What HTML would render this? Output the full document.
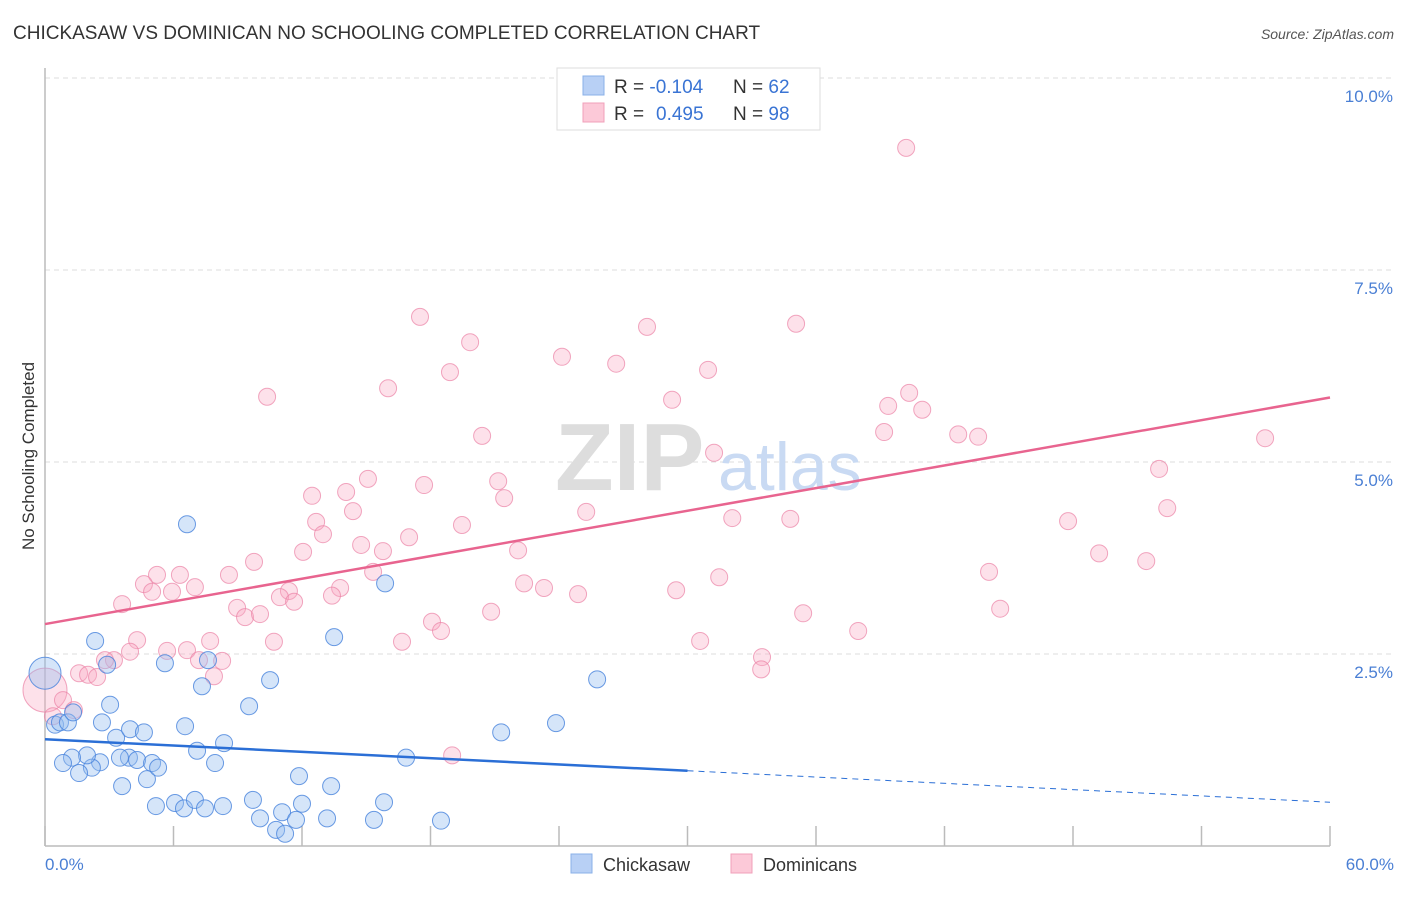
<!DOCTYPE html>
<html><head><meta charset="utf-8"><style>
body{margin:0;background:#fff;font-family:"Liberation Sans",sans-serif;}
svg text{font-family:"Liberation Sans",sans-serif;}
</style></head><body>
<svg id="chart" width="1406" height="892" xmlns="http://www.w3.org/2000/svg">
<text x="13" y="39" font-size="19" fill="#333">CHICKASAW VS DOMINICAN NO SCHOOLING COMPLETED CORRELATION CHART</text>
<text x="1394" y="39" font-size="14" fill="#555" font-style="italic" text-anchor="end">Source: ZipAtlas.com</text>
<g id="grid"></g>
<g>
<text x="555" y="490" font-size="96" fill="#ddd" font-family="Liberation Serif" font-weight="bold">ZIP</text>
<text x="718" y="490" font-size="68" fill="#c9daf3">atlas</text>
</g>
<line x1="45" y1="68" x2="45" y2="846" stroke="#bbb" stroke-width="1.5"/>
<line x1="45" y1="846" x2="1330" y2="846" stroke="#bbb" stroke-width="1.5"/>
<g id="ticks"></g>
<g id="pts"></g>
<g id="lines"></g>
<text transform="translate(34,456) rotate(-90)" font-size="17" fill="#333" text-anchor="middle">No Schooling Completed</text>
<text x="45" y="870" font-size="17" fill="#4a7fd4">0.0%</text>
<text x="1394" y="870" font-size="17" fill="#4a7fd4" text-anchor="end">60.0%</text>
<g>
<rect x="557" y="68" width="263" height="62" fill="#fff" stroke="#ddd"/>
<rect x="583" y="76" width="21" height="19" fill="#b8d0f5" stroke="#8ab0e8"/>
<rect x="583" y="103" width="21" height="19" fill="#fcc9d8" stroke="#f0a0ba"/>
<text x="614" y="93" font-size="19" fill="#333">R = <tspan fill="#3a74d4">-0.104</tspan></text>
<text x="733" y="93" font-size="19" fill="#333">N = <tspan fill="#3a74d4">62</tspan></text>
<text x="614" y="120" font-size="19" fill="#333">R = <tspan fill="#3a74d4" x="656">0.495</tspan></text>
<text x="733" y="120" font-size="19" fill="#333">N = <tspan fill="#3a74d4">98</tspan></text>
</g>
<g>
<rect x="571" y="854" width="21" height="19" fill="#b8d0f5" stroke="#8ab0e8"/>
<text x="603" y="871" font-size="18" fill="#333">Chickasaw</text>
<rect x="731" y="854" width="21" height="19" fill="#fcc9d8" stroke="#f0a0ba"/>
<text x="763" y="871" font-size="18" fill="#333">Dominicans</text>
</g>
</svg>
<script>
const yTicks=[2.5,5.0,7.5,10.0];
const blueX=[0,0.47,0.70,1.07,1.31,2.34,3.04,2.90,2.66,3.32,3.97,4.62,3.92,4.30,5.00,3.50,2.57,2.19,1.96,1.26,0.84,1.59,3.60,4.76,5.28,6.63,5.60,7.61,7.33,6.54,7.10,7.94,8.36,9.53,10.51,5.18,6.07,6.49,7.00,7.47,8.31,9.71,10.04,10.79,11.21,11.07,11.72,12.00,11.86,13.17,13.36,13.50,15.36,15.83,15.88,16.86,18.49,21.30,23.86,25.78];
const blueY=[2.25,1.58,1.61,1.61,1.74,2.67,1.84,2.36,1.61,1.41,1.52,1.48,1.15,1.12,1.08,1.15,1.09,1.02,1.18,1.15,1.08,0.95,0.78,0.87,1.02,4.19,2.38,2.42,2.08,1.56,1.24,1.08,1.34,1.82,2.16,0.52,0.56,0.49,0.60,0.49,0.52,0.60,0.36,0.21,0.16,0.44,0.34,0.55,0.91,0.36,0.78,2.72,0.34,0.57,3.42,1.15,0.33,1.48,1.60,2.17];
const pinkX=[40.21,17.51,19.85,16.02,18.91,10.37,24.14,26.67,28.11,35.07,30.96,29.28,39.37,40.35,40.96,39.18,42.64,43.57,56.97,20.41,31.24,52.02,52.40,47.77,15.08,12.47,14.06,17.70,21.16,21.44,14.38,12.66,12.98,19.47,25.27,32.09,34.80,17.00,14.76,15.78,12.05,9.76,8.59,5.23,6.30,4.62,5.00,5.93,7.00,15.32,22.09,49.22,51.42,44.08,31.48,22.37,23.30,13.78,13.40,11.39,10.97,11.63,8.97,9.34,10.04,3.60,24.89,29.47,20.83,35.40,44.60,37.97,18.07,18.49,16.67,30.59,4.30,7.71,10.69,5.70,3.97,6.63,7.19,8.27,3.22,2.80,1.59,2.01,2.43,7.89,33.48,33.44,0,0.84,1.35,0.37,19.01];
const pinkY=[9.09,6.89,6.56,5.96,6.17,5.85,6.37,6.28,6.76,6.80,6.20,5.81,5.73,5.90,5.68,5.39,5.36,5.33,5.31,5.34,5.12,4.91,4.40,4.23,4.78,4.56,4.61,4.70,4.75,4.53,4.36,4.22,4.06,4.18,4.35,4.27,4.26,4.02,3.92,3.84,3.83,3.70,3.53,3.53,3.53,3.41,3.31,3.31,3.37,3.57,3.85,3.81,3.71,3.57,3.50,3.42,3.36,3.36,3.26,3.32,3.24,3.18,3.10,2.98,3.02,3.15,3.28,3.33,3.05,3.03,3.09,2.80,2.92,2.80,2.66,2.67,2.68,2.67,2.66,2.54,2.53,2.55,2.42,2.41,2.42,2.42,2.25,2.23,2.20,2.21,2.46,2.30,2.03,1.90,1.77,1.69,1.18];
const blueTrend=[1.39,0.57];
const pinkTrend=[2.89,5.84];
const sx=v=>45+v*1285/60, sy=v=>846-v*76.8;
const NS="http://www.w3.org/2000/svg";
function mk(t,a,p){const e=document.createElementNS(NS,t);for(const k in a)e.setAttribute(k,a[k]);p.appendChild(e);return e;}
const grid=document.getElementById('grid');
yTicks.forEach(t=>{
 const l=mk('line',{x1:45,x2:1394,y1:sy(t),y2:sy(t),stroke:'#ddd','stroke-dasharray':'5,4'},grid);
 
 
 const tx=mk('text',{x:1393,y:sy(t)+24,'font-size':17,fill:'#4a7fd4','text-anchor':'end'},grid);
 tx.textContent=t.toFixed(1)+'%';
 
 
});
const tk=document.getElementById('ticks');
for(let i=0;i<=10;i++){
 const l=mk('line',{x1:sx(i*6),x2:sx(i*6),y1:826,y2:846,stroke:'#bbb','stroke-width':1.5},tk);
 
 
}
const pts=document.getElementById('pts');
pinkX.forEach((x,i)=>{
 const c=mk('circle',{cx:sx(x),cy:sy(pinkY[i]),r:(i==92?22:8.5),fill:'rgba(248,170,195,0.35)',stroke:'rgba(235,130,165,0.7)','stroke-width':1},pts);
 
 
});
blueX.forEach((x,i)=>{
 const c=mk('circle',{cx:sx(x),cy:sy(blueY[i]),r:(i==0?16:8.5),fill:'rgba(150,190,240,0.4)',stroke:'rgba(70,130,220,0.8)','stroke-width':1},pts);
 
 
});
const ln=document.getElementById('lines');
const by=x=>blueTrend[0]+(blueTrend[1]-blueTrend[0])*x/60;
let l1=mk('line',{x1:sx(0),y1:sy(by(0)),x2:sx(30),y2:sy(by(30)),stroke:'#2b6fd6','stroke-width':2.5},ln);


let l2=mk('line',{x1:sx(30),y1:sy(by(30)),x2:sx(60),y2:sy(by(60)),stroke:'#2b6fd6','stroke-width':1,'stroke-dasharray':'6,5'},ln);


let l3=mk('line',{x1:sx(0),y1:sy(pinkTrend[0]),x2:sx(60),y2:sy(pinkTrend[1]),stroke:'#e8648f','stroke-width':2.5},ln);


</script>
</body></html>
